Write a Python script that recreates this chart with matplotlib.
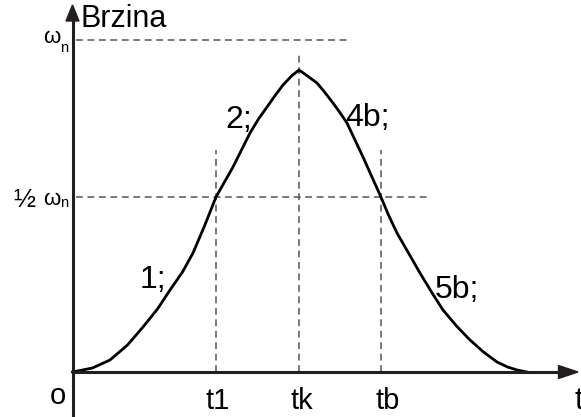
import matplotlib
matplotlib.use("Agg")
import matplotlib.pyplot as plt

plt.rcParams['font.family'] = ['Liberation Sans', 'DejaVu Sans']

# brzina kroz vrijeme (ocitano sa slike), t i v u proizvoljnim jedinicama
t_curve = [0, 20, 37.5, 55, 70.5, 85, 97.5, 110, 120.5, 132, 143.5, 152, 160.5, 169, 177.5,
           186, 194.5, 203, 210.5, 219, 226.5, 235, 244.5, 252, 260.5, 267, 274.5, 282,
           290.5, 299, 308, 316, 324.5, 336, 347.5, 359, 370.5, 384, 397.5, 411, 424.5,
           435, 444.5, 454.5]
v_curve = [0, 4, 12, 27, 45, 63, 82, 100, 119, 146, 175, 190, 205, 222, 239,
           253, 265, 277, 287, 296, 302, 296, 289, 280, 269, 260, 249, 233,
           215, 196, 176, 157, 139, 119, 99, 80, 62, 46, 32, 20, 10,
           5, 2, 0]

w_n = 332
w_half = 175
t1, tk, tb = 143.5, 226.5, 308.5
t_labels = ["t1", "tk", "tb"]
seg_labels = ["1;", "2;", "4b;", "5b;"]
seg_pos = [(67.5, 84), (152.5, 244), (272.5, 246), (362.5, 74)]

fig = plt.figure(figsize=(5.81, 4.17), dpi=100)
ax = fig.add_axes([0, 0, 1, 1])
ax.set_xlim(-72.5, 508.5)
ax.set_ylim(-45, 372)
ax.axis('off')

dash = dict(color='#555555', lw=1.1, ls=(0, (4.5, 3)))
ax.plot([3, 278], [w_n, w_n], **dash)
ax.plot([3, 358], [w_half, w_half], **dash)
ax.plot([t1, t1], [0, 222], **dash)
ax.plot([tk, tk], [0, 317], **dash)
ax.plot([tb, tb], [0, 222], **dash)

ax.plot(t_curve, v_curve, color='black', lw=2, solid_joinstyle='round')

# osi sa strelicama
ax.plot([0, 0], [-45, 354], color='#231f20', lw=2.2, solid_capstyle='butt')
ax.plot([0, 488], [0, 0], color='#231f20', lw=2.2, solid_capstyle='butt')
ax.fill([-6.5, 6.5, 0], [351, 351, 367], color='#231f20')
ax.fill([486, 486, 505.5], [-6.5, 6.5, 0], color='#231f20')

ax.text(8, 345, "Brzina", fontsize=22, va='baseline', ha='left')
ax.text(-14.5, -32, "o", fontsize=21, va='baseline', ha='center')
ax.text(502, -37, "t", fontsize=22, va='baseline', ha='left')
for x, lab in zip([t1, tk + 0.5, tb + 5], t_labels):
    ax.text(x + 2, -37, lab, fontsize=21, va='baseline', ha='center')

ax.text(-12.5, w_n - 3, "ω", fontsize=16, va='baseline', ha='right')
ax.text(-12.5, w_n - 12, "n", fontsize=10.5, va='baseline', ha='left')
ax.text(-12.5, w_half - 8, "ω", fontsize=16, va='baseline', ha='right')
ax.text(-12.5, w_half - 10, "n", fontsize=10.5, va='baseline', ha='left')
ax.text(-37, w_half - 10, "½", fontsize=19, va='baseline', ha='right')

for (x, y), lab in zip(seg_pos, seg_labels):
    ax.text(x, y, lab, fontsize=23, va='baseline', ha='left')

fig.savefig("out.png", dpi=100)
